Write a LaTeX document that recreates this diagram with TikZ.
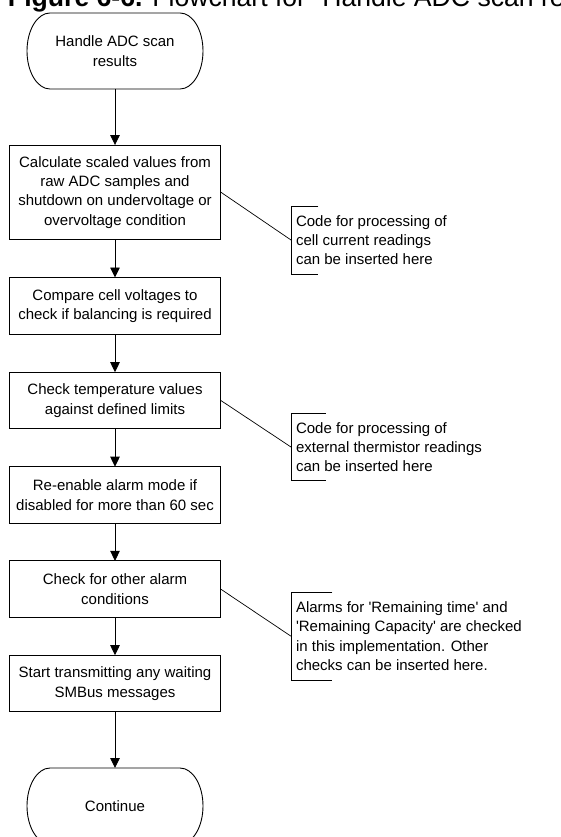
\documentclass[tikz,border=0pt]{standalone}
\usepackage{fontspec}
\setmainfont{Liberation Sans}[Ligatures=TeXOff]
\usetikzlibrary{arrows.meta}

% Outline of a terminal (start/end) node: straight top and bottom,
% half-ellipse ends.
\newcommand\termoutline[1]{%
  \draw[line width=0.9pt]
    ([xshift=23pt]#1.north west) -- ([xshift=-23pt]#1.north east)
    arc[start angle=90, end angle=-90, x radius=23pt, y radius=38pt]
    -- ([xshift=23pt]#1.south west)
    arc[start angle=270, end angle=90, x radius=23pt, y radius=38pt]
    -- cycle;}

\begin{document}
\begin{tikzpicture}[x=1pt, y=-1pt,
  every node/.style={inner sep=0pt, outer sep=0pt},
  txt/.style={font=\fontsize{15}{19.3}\selectfont},
  stepbox/.style={txt, draw, line width=0.9pt, minimum width=211.7pt,
    minimum height=56.6pt, align=center},
  terminal/.style={txt, align=center, minimum width=176pt, minimum height=76pt},
  note/.style={txt, align=left, anchor=west},
  flow/.style={line width=0.9pt, -{Triangle[length=10pt, width=9.5pt]}},
  link/.style={line width=0.7pt},
]
\useasboundingbox (0,0) rectangle (561,837);
\clip (0,0) rectangle (561,837);

% caption
\node[anchor=base west, font=\fontsize{26.6}{30}\selectfont] (title) at (8,6.5)
  {\textbf{Figure 6-6.} Flowchart for “Handle ADC scan results”};

% main flow
\node[terminal] (start) at (115,51) {Handle ADC scan\\results};
\termoutline{start}
\node[stepbox, minimum height=94.3pt] (scale) at (115,192.2)
  {Calculate scaled values from\\raw ADC samples and\\shutdown on undervoltage or\\overvoltage condition};
\node[stepbox] (bal) at (115,305.8) {Compare cell voltages to\\check if balancing is required};
\node[stepbox] (temp) at (115,400.5) {Check temperature values\\against defined limits};
\node[stepbox] (alarm) at (115,495) {Re-enable alarm mode if\\disabled for more than 60 sec};
\node[stepbox] (other) at (115,589.2) {Check for other alarm\\conditions};
\node[stepbox] (smb) at (115,683.5) {Start transmitting any waiting\\SMBus messages};
\node[terminal] (cont) at (115,806) {Continue};
\termoutline{cont}

\draw[flow] (start) -- (scale);
\draw[flow] (scale) -- (bal);
\draw[flow] (bal) -- (temp);
\draw[flow] (temp) -- (alarm);
\draw[flow] (alarm) -- (other);
\draw[flow] (other) -- (smb);
\draw[flow] (smb) -- (cont);

% annotations
\node[note] (n1) at (296,240) {Code for processing of\\cell current readings\\can be inserted here};
\coordinate (b1) at (291,240);
\draw[link] ([shift={(27.3,-34)}]b1) -- ([shift={(0,-34)}]b1)
  -- ([shift={(0,34)}]b1) -- ([shift={(27.3,34)}]b1);
\draw[link] (scale.east) -- (b1);

\node[note] (n2) at (296,447) {Code for processing of\\external thermistor readings\\can be inserted here};
\coordinate (b2) at (291,447);
\draw[link] ([shift={(34.7,-33.7)}]b2) -- ([shift={(0,-33.7)}]b2)
  -- ([shift={(0,33.7)}]b2) -- ([shift={(34.7,33.7)}]b2);
\draw[link] (temp.east) -- (b2);

\node[note] (n3) at (296,636.2) {Alarms for 'Remaining time' and\\'Remaining Capacity' are checked\\in this implementation. Other\\checks can be inserted here.};
\coordinate (b3) at (291,636.2);
\draw[link] ([shift={(41.3,-43.85)}]b3) -- ([shift={(0,-43.85)}]b3)
  -- ([shift={(0,43.85)}]b3) -- ([shift={(41.3,43.85)}]b3);
\draw[link] (other.east) -- (b3);
\end{tikzpicture}
\end{document}
